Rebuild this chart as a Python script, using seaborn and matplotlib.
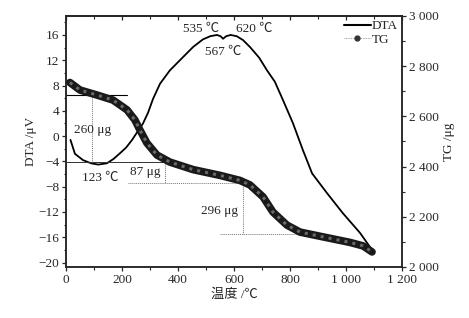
import numpy as np
import pandas as pd
import matplotlib
import matplotlib.pyplot as plt
import seaborn as sns
from matplotlib.lines import Line2D
from matplotlib.ticker import MultipleLocator, FuncFormatter

matplotlib.use("Agg")
sns.set_style("ticks")
plt.rcParams['font.family'] = ['Liberation Serif', 'Noto Sans CJK SC', 'DejaVu Sans']
plt.rcParams['axes.unicode_minus'] = True

# DTA curve (left axis, µV)
dta_temp = [16, 32, 61, 90, 115, 146, 170, 193, 215, 236, 257, 275, 293, 311, 336, 371,
            418, 454, 489, 515, 539, 552, 561, 572, 588, 610, 632, 657, 690, 718, 746,
            775, 811, 846, 879, 932, 989, 1050, 1093]
dta_val = [-0.6, -2.8, -3.8, -4.3, -4.5, -4.3, -3.6, -2.7, -1.8, -0.6, 0.8, 2.0, 3.7, 5.9,
           8.3, 10.4, 12.5, 14.1, 15.3, 15.8, 16.0, 15.8, 15.4, 15.8, 16.0, 15.8, 15.2, 14.1,
           12.4, 10.4, 8.6, 5.7, 2.0, -2.2, -5.9, -9.0, -12.2, -15.3, -18.0]

# TG curve (right axis, µg)
tg_temp = [14, 50, 111, 168, 218, 246, 264, 289, 325, 371, 454, 550, 621, 657, 704, 739,
           789, 836, 918, 1014, 1061, 1093]
tg_val = [2735, 2705, 2685, 2665, 2626, 2586, 2546, 2494, 2446, 2418, 2388, 2365, 2345, 2327,
          2279, 2219, 2167, 2139, 2120, 2098, 2084, 2060]

# step guide lines (left axis units)
guide_solid_x = [0, 218]
guide_solid_y = [6.5, 6.5]
guide_base_x = [0, 354]
guide_base_y = [-4.1, -4.1]
guide_dot = [([93, 93], [6.5, -4.1]),
             ([354, 354], [-4.1, -7.4]),
             ([221, 632], [-7.4, -7.4]),
             ([632, 632], [-7.4, -15.5]),
             ([550, 836], [-15.5, -15.5])]

# annotation texts
notes = ["535 ℃", "620 ℃", "567 ℃", "260 μg", "123 ℃", "87 μg", "296 μg"]
note_x = [482, 671, 561, 96, 121, 284, 550]
note_y = [16.9, 16.9, 13.4, 0.95, -6.6, -5.7, -11.9]

dta = pd.DataFrame({"t": dta_temp, "v": dta_val})
tg = pd.DataFrame({"t": tg_temp, "v": tg_val})

fig = plt.figure(figsize=(4.69, 3.18), dpi=100)
ax = fig.add_axes([0.1407, 0.1604, 0.7164, 0.7893])
ax2 = ax.twinx()

sns.lineplot(data=dta, x="t", y="v", ax=ax, color="black", lw=1.3, sort=False)
sns.lineplot(data=tg, x="t", y="v", ax=ax2, color="#1a1a1a", lw=5.5, sort=False,
             solid_capstyle="round", solid_joinstyle="round")
sns.lineplot(data=tg, x="t", y="v", ax=ax2, color="#6a6a6a", lw=2.2, ls=":", sort=False)

ax.plot(guide_solid_x, guide_solid_y, color="black", lw=0.8)
ax.plot(guide_base_x, guide_base_y, color="#333333", lw=0.7)
for gx, gy in guide_dot:
    ax.plot(gx, gy, color="#777777", lw=0.7, ls=(0, (1, 1)))

for s, x, y in zip(notes, note_x, note_y):
    ax.text(x, y, s, ha="center", va="center", fontsize=9.5)

ax.set_xlim(0, 1200)
ax.set_ylim(-20.7, 19.0)
ax2.set_ylim(2000, 3000)

ax.xaxis.set_major_locator(MultipleLocator(200))
ax.xaxis.set_minor_locator(MultipleLocator(100))
ax.yaxis.set_major_locator(MultipleLocator(4))
ax.yaxis.set_minor_locator(MultipleLocator(2))
ax2.yaxis.set_major_locator(MultipleLocator(200))
ax2.yaxis.set_minor_locator(MultipleLocator(100))

sep = FuncFormatter(lambda v, p: f"{int(round(v)):,}".replace(",", " ").replace("-", "\u2212"))
ax.xaxis.set_major_formatter(sep)
ax2.yaxis.set_major_formatter(sep)

ax.tick_params(axis="both", which="major", direction="out", length=3, width=0.9, labelsize=9.5, pad=2)
ax.tick_params(axis="both", which="minor", direction="out", length=1.8, width=0.8)
ax2.tick_params(axis="y", which="major", direction="out", length=3, width=0.9, labelsize=9.5, pad=2)
ax2.tick_params(axis="y", which="minor", direction="out", length=1.8, width=0.8)

top = ax.secondary_xaxis("top")
top.xaxis.set_major_locator(MultipleLocator(200))
top.xaxis.set_minor_locator(MultipleLocator(100))
top.tick_params(which="major", direction="in", length=3, width=0.9, labeltop=False)
top.tick_params(which="minor", direction="in", length=1.8, width=0.8)

for a in (ax, ax2):
    for sp in a.spines.values():
        sp.set_linewidth(1.1)
        sp.set_visible(True)
top.spines["top"].set_linewidth(1.1)

ax.set_xlabel("温度 /℃", fontsize=9.5, labelpad=2)
ax.set_ylabel("DTA /μV", fontsize=9.5, labelpad=1)
ax2.set_ylabel("TG /μg", fontsize=9.5, rotation=90, labelpad=3)

handles = [Line2D([], [], color="black", lw=1.5),
           Line2D([], [], color="#888888", lw=0.6, ls=(0, (1, 1)), marker="o",
                  markersize=3.5, markerfacecolor="#333333", markeredgecolor="#333333")]
ax.legend(handles, ["DTA", "TG"], loc="upper right", frameon=False, fontsize=9.5,
          handlelength=2.0, handletextpad=0.1, labelspacing=0.1, borderaxespad=0.2,
          borderpad=0.1)

fig.savefig("out.png", dpi=100)
